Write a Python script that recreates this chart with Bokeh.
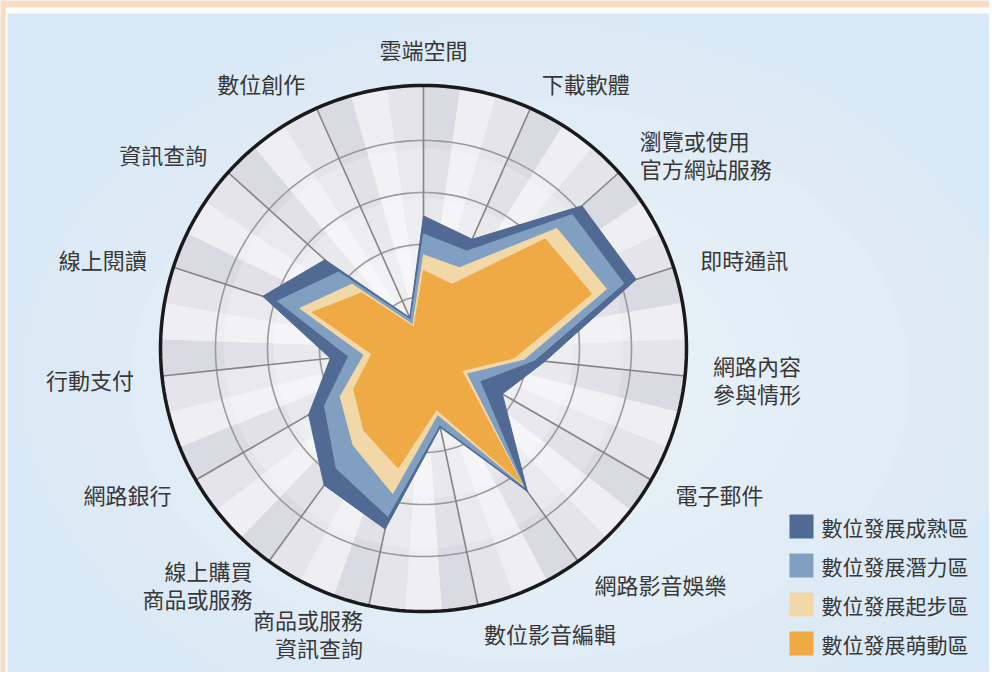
import numpy as np
from bokeh.plotting import figure
from bokeh.models import Range1d
from bokeh.embed import file_html
from bokeh.resources import INLINE
from bokeh.core.properties import value

# ---------------- data ----------------
categories = ["雲端空間", "下載軟體", "瀏覽或使用\n官方網站服務", "即時通訊",
              "網路內容\n參與情形", "電子郵件", "網路影音娛樂", "數位影音編輯",
              "商品或服務\n資訊查詢", "線上購買\n商品或服務", "網路銀行", "行動支付",
              "線上閱讀", "資訊查詢", "數位創作"]
series_names = ["數位發展成熟區", "數位發展潛力區", "數位發展起步區", "數位發展萌動區"]
mature    = [51, 46, 82, 86, 47, 35, 68, 31, 71, 65, 51, 36, 65, 51, 13]
potential = [44, 41, 77, 81, 43, 25, 66, 30, 66, 57, 44, 29, 59, 44, 12]
starting  = [36, 34, 69, 74, 39, 19, 65, 26, 57, 46, 37, 23, 50, 37, 10]
emerging  = [30, 27, 63, 68, 35, 17, 64, 24, 47, 39, 31, 20, 45, 32, 9]
ring_ticks = [20, 40, 60, 80, 100]

# ---------------- style ----------------
series_colors = ["#506a93", "#81a0c1", "#f3d8a7", "#efa945"]
FONT = "Noto Sans CJK TC"
W, H = 989, 672
CX, CY = 423, 348          # centre (picture pixels)
R_MAX = 260                # radius for value 100
R_OUT = 263
N = len(categories)
ang = np.deg2rad(np.arange(N) * 360.0 / N)   # clockwise from top

def pt(r, a):
    return CX + r * np.sin(a), CY - r * np.cos(a)

p = figure(width=W, height=H, output_backend="svg", toolbar_location=None,
           x_range=Range1d(0, W), y_range=Range1d(H, 0),
           background_fill_color="#dae9f6", border_fill_color="#dae9f6",
           min_border=0, outline_line_color=None)
p.axis.visible = False
p.grid.visible = False

# soft lighter centre of the panel
for i in range(7):
    p.ellipse(x=520, y=380, width=1000 - i * 110, height=720 - i * 80,
              fill_color="white", fill_alpha=0.07, line_color=None)

# page frame: peach strips + white line
p.quad(left=0, right=W, top=0, bottom=13, fill_color="white", line_color=None)
p.quad(left=0, right=7, top=0, bottom=H, fill_color="white", line_color=None)
p.quad(left=0, right=W, top=0, bottom=7, fill_color="#fbdcc0", line_color=None)
p.quad(left=0, right=5, top=0, bottom=H, fill_color="#fbdcc0", line_color=None)

# ---------------- background sectors ----------------
sub_cols = ["#dadae2", "#efeff3", "#e4e4ea"]
xs, ys, cols = [], [], []
step = 2 * np.pi / N
for k in range(N):
    for j in range(3):
        a0 = k * step + j * step / 3
        a1 = a0 + step / 3
        aa = np.linspace(a0, a1, 12)
        px, py = pt(R_OUT, aa)
        xs.append([CX] + list(px))
        ys.append([CY] + list(py))
        cols.append(sub_cols[j])
p.patches(xs, ys, fill_color=cols, line_color=None)

# lighter centre of the disc
circ = np.linspace(0, 2 * np.pi, 240)
for rr, al in [(200, 0.2), (150, 0.25), (100, 0.25)]:
    cx_, cy_ = pt(rr, circ)
    p.patch(cx_, cy_, fill_color="white", fill_alpha=al, line_color=None)

# rings
for t in ring_ticks[:-1]:
    rx, ry = pt(t / 100 * R_MAX, circ)
    p.line(rx, ry, line_color="#9a9a9a", line_width=1.6)

# radial lines
for a in ang:
    ex, ey = pt(R_OUT, a)
    p.line([CX, ex], [CY, ey], line_color="#858585", line_width=1.6)

# outer circle
ox, oy = pt(R_OUT, circ)
p.line(ox, oy, line_color="#1a1a1a", line_width=3.5)

# ---------------- series polygons ----------------
for vals, col in zip([mature, potential, starting, emerging], series_colors):
    r = np.array(vals) / 100 * R_MAX
    px, py = pt(r, ang)
    p.patch(list(px), list(py), fill_color=col, line_color=col, line_width=1)

# ---------------- category labels ----------------
lx, ly, la, lt = [], [], [], []
for a, name in zip(ang, categories):
    s = np.sin(a)
    rl = 300 if abs(s) < 0.1 else 291
    x_, y_ = pt(rl, a)
    lx.append(x_); ly.append(y_)
    la.append("left" if s > 0.15 else ("right" if s < -0.15 else "center"))
    lt.append(name)
p.text(x=lx, y=ly, text=lt, text_align=la, text_baseline="middle",
       text_font=value(FONT), text_font_size="22px", text_color="#383838",
       text_line_height=0.88)

# ---------------- legend ----------------
leg_y = [526 + 39 * i for i in range(len(series_names))]
p.rect(x=[801] * 4, y=leg_y, width=24, height=24, fill_color=series_colors, line_color=None)
p.text(x=[821] * 4, y=leg_y, text=series_names, text_align="left", text_baseline="middle",
       text_font=value(FONT), text_font_size="21px", text_color="#383838")

open("out.html", "w").write(file_html(p, INLINE))
